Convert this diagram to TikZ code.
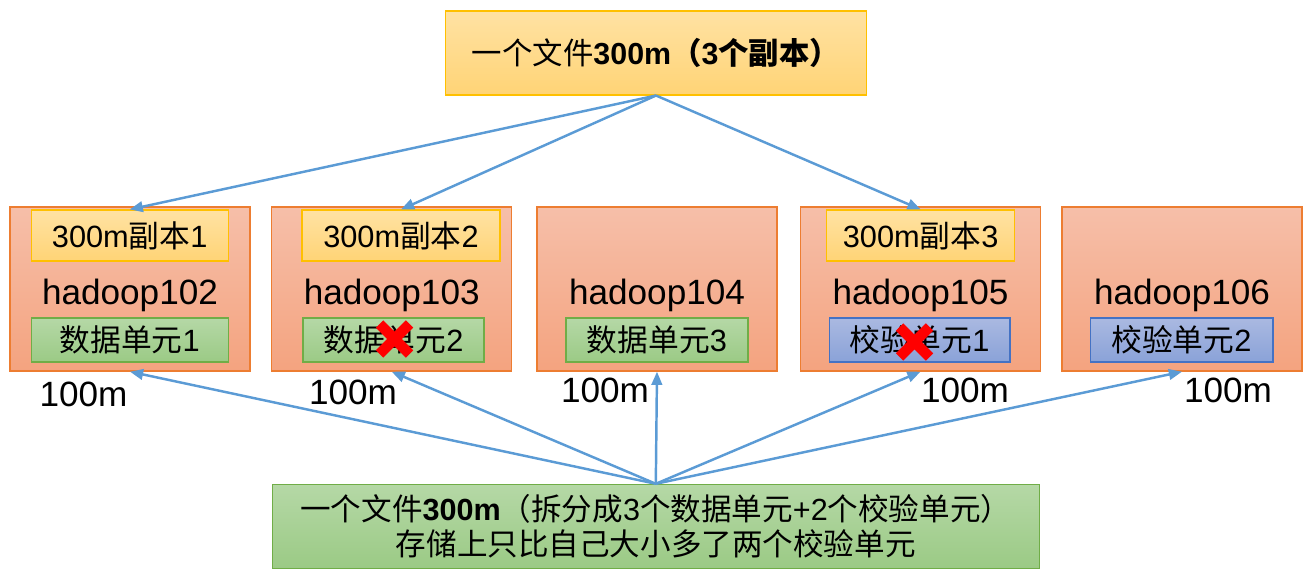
\documentclass[tikz,border=0pt]{standalone}
\usepackage{fontspec}
\setmainfont{Liberation Sans}
\newfontfamily\cjk{Noto Sans CJK SC}
\usetikzlibrary{arrows.meta}

\definecolor{hostline}{HTML}{ED7D31}
\definecolor{hostA}{HTML}{F6BFA9}
\definecolor{hostB}{HTML}{F4A37F}
\definecolor{yline}{HTML}{FFC000}
\definecolor{yA}{HTML}{FFE2A3}
\definecolor{yB}{HTML}{FFD476}
\definecolor{gline}{HTML}{70AD47}
\definecolor{gA}{HTML}{B5D8A6}
\definecolor{gB}{HTML}{9BCA85}
\definecolor{bline}{HTML}{4472C4}
\definecolor{bA}{HTML}{AAB9E1}
\definecolor{bB}{HTML}{8AA2D8}
\definecolor{linkc}{HTML}{5B9BD5}

\tikzset{
	box/.style={draw,line width=0.6pt,inner sep=0pt,align=center},
	hostbox/.style={box,draw=hostline,line width=0.8pt,top color=hostA,bottom color=hostB,minimum width=4.8cm,minimum height=3.28cm},
	copybox/.style={box,draw=yline,top color=yA,bottom color=yB,minimum height=1.02cm,font=\fontsize{17.5pt}{21pt}\selectfont},
	databox/.style={box,draw=gline,top color=gA,bottom color=gB,minimum height=0.88cm,font=\fontsize{17.5pt}{21pt}\selectfont},
	checkbox/.style={box,draw=bline,top color=bA,bottom color=bB,minimum height=0.88cm,font=\fontsize{17.5pt}{21pt}\selectfont},
	hname/.style={inner sep=0pt,font=\fontsize{20pt}{24pt}\selectfont},
	link/.style={draw=linkc,line width=1.4pt,-{Triangle[length=7.5pt,width=6pt]}},
	xmark/.style={red,line width=6pt}
}

\begin{document}
\begin{tikzpicture}[x=0.02cm,y=-0.02cm]
		\useasboundingbox (0,0) rectangle (1315,578);
		\node[box,draw=yline,top color=yA,bottom color=yB,minimum width=8.42cm,minimum height=1.68cm,font=\fontsize{17.3pt}{21pt}\selectfont] (file) at (656,53) {{\cjk 一个文件}\textbf{300m}{\bfseries\cjk （}\textbf{3}{\bfseries\cjk 个副本）}};
		\node[box,draw=gline,top color=gA,bottom color=gB,minimum width=15.34cm,minimum height=1.68cm,font=\fontsize{17.4pt}{19.6pt}\selectfont] (split) at (655.8,526.3) {{\cjk 一个文件}\textbf{300m}{\cjk （拆分成}3{\cjk 个数据单元}+2{\cjk 个校验单元）}\\{\cjk 存储上只比自己大小多了两个校验单元}};

		\node[hostbox] (h102) at (130,289) {};
		\node[hostbox] (h103) at (391.7,289) {};
		\node[hostbox] (h104) at (657,289) {};
		\node[hostbox] (h105) at (920.5,289) {};
		\node[hostbox] (h106) at (1182,289) {};

		\node[hname] (n102) at (130,295) {hadoop102};
		\node[hname] (n103) at (391.7,295) {hadoop103};
		\node[hname] (n104) at (657,295) {hadoop104};
		\node[hname] (n105) at (920.5,295) {hadoop105};
		\node[hname] (n106) at (1182,295) {hadoop106};

		\node[copybox,minimum width=3.94cm] (c1) at (129.7,235.5) {300m{\cjk 副本}1};
		\node[copybox,minimum width=3.96cm] (c2) at (401,235.5) {300m{\cjk 副本}2};
		\node[copybox,minimum width=3.76cm] (c3) at (920.6,235.5) {300m{\cjk 副本}3};

		\node[databox,minimum width=3.94cm] (d1) at (129.7,340) {{\cjk 数据单元}1};
		\node[databox,minimum width=3.62cm] (d2) at (393.5,340) {{\cjk 数据单元}2};
		\node[databox,minimum width=3.64cm] (d3) at (657,340) {{\cjk 数据单元}3};
		\node[checkbox,minimum width=3.62cm] (p1) at (919.5,340) {{\cjk 校验单元}1};
		\node[checkbox,minimum width=3.66cm] (p2) at (1181.5,340) {{\cjk 校验单元}2};

		\node[hname] (s102) at (83.5,394) {100m};
		\node[hname] (s103) at (353,392) {100m};
		\node[hname] (s104) at (605,390) {100m};
		\node[hname] (s105) at (965,390) {100m};
		\node[hname] (s106) at (1228,390) {100m};

		\foreach \c in {c1,c2,c3}
			\draw[link] (file.south) -- (\c.north);
		\foreach \h in {h102,h103,h104,h105,h106}
			\draw[link] (split.north) -- (\h.south);

		\coordinate (x103) at (394.5,339);
		\coordinate (x105) at (914.5,342);
		\foreach \x in {x103,x105}
			\draw[xmark] ([shift={(-15,-15)}]\x) -- ([shift={(15,15)}]\x) ([shift={(-15,15)}]\x) -- ([shift={(15,-15)}]\x);
\end{tikzpicture}
\end{document}
